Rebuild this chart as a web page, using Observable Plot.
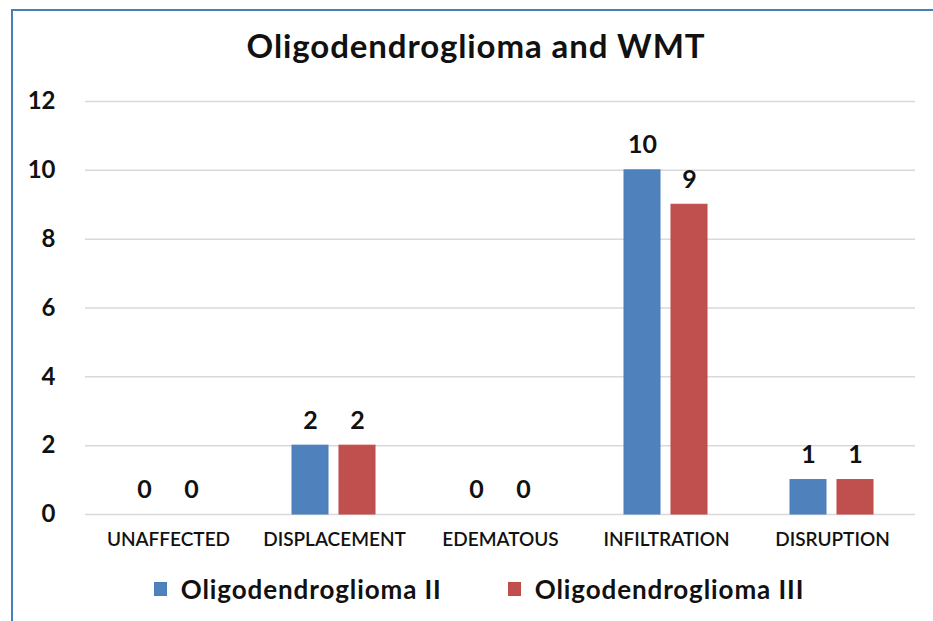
<!DOCTYPE html>
<html>
<head>
<meta charset="utf-8">
<script src="https://cdn.jsdelivr.net/npm/d3@7"></script>
<script src="https://cdn.jsdelivr.net/npm/@observablehq/plot@0.6"></script>
<style>
  html, body { margin: 0; padding: 0; background: #fff; width: 933px; height: 621px; overflow: hidden; font-family: Lato, "Open Sans", sans-serif; }
  #frame { position: absolute; left: 11px; top: 9px; width: 1000px; height: 1000px; border-left: 2px solid #4a7ebb; border-top: 2px solid #4a7ebb; }
  #title { position: absolute; left: 0; top: 25px; width: 952px; text-align: center; font-size: 33px; letter-spacing: 0.9px; font-weight: 700; color: #111; line-height: 40px; }
  #chart { position: absolute; left: 0; top: 80px; }
  #legend { position: absolute; left: 0; top: 571px; width: 958px; display: flex; justify-content: center; align-items: center; gap: 66px; font-size: 26px; letter-spacing: 0.9px; font-weight: 700; color: #111; line-height: 36px; }
  .item { display: flex; align-items: center; gap: 14px; }
  .sw { width: 13px; height: 14px; box-sizing: border-box; }
</style>
</head>
<body>
<div id="frame"></div>
<div id="title">Oligodendroglioma and WMT</div>
<div id="chart"></div>
<div id="legend"></div>
<script>
const categories = ["UNAFFECTED", "DISPLACEMENT", "EDEMATOUS", "INFILTRATION", "DISRUPTION"];
const series = ["Oligodendroglioma II", "Oligodendroglioma III"];
const grade2Values = [0, 2, 0, 10, 1];
const grade3Values = [0, 2, 0, 9, 1];
const yTicks = [0, 2, 4, 6, 8, 10, 12];
const colors = ["#4f81bd", "#c0504d"];
const strokes = ["#4a7ebb", "#be4b48"];

const data = [];
categories.forEach((c, i) => {
  data.push({cat: c, series: series[0], value: grade2Values[i]});
  data.push({cat: c, series: series[1], value: grade3Values[i]});
});

const chart = Plot.plot({
  width: 933,
  height: 480,
  marginTop: 21,
  marginBottom: 46,
  marginLeft: 84,
  marginRight: 18,
  style: {fontFamily: "Lato, 'Open Sans', sans-serif", color: "#111", background: "transparent"},
  fx: {domain: categories, padding: 0, label: null},
  x: {domain: series, paddingInner: 0.23, paddingOuter: 0.846, axis: null},
  y: {domain: [0, 12], ticks: yTicks, label: null},
  color: {domain: series, range: colors},
  marks: [
    Plot.gridY(yTicks, {stroke: "#d9d9d9", strokeOpacity: 1, strokeWidth: 1.5}),
    Plot.barY(data, {fx: "cat", x: "series", y: "value", fill: "series", stroke: d => strokes[series.indexOf(d.series)], strokeWidth: 1}),
    Plot.text(data, {fx: "cat", x: "series", y: "value", text: d => String(d.value), dy: -25, fontSize: 25, fontWeight: "bold", fill: "#111"}),
    Plot.axisY(yTicks, {tickSize: 0, tickPadding: 30, fontSize: 24, fontWeight: "bold", label: null}),
    Plot.axisFx({anchor: "bottom", tickSize: 0, tickPadding: 18, fontSize: 19, fontWeight: 600, label: null})
  ]
});
document.getElementById("chart").appendChild(chart);

const legend = document.getElementById("legend");
series.forEach((s, i) => {
  const item = document.createElement("div");
  item.className = "item";
  const sw = document.createElement("div");
  sw.className = "sw";
  sw.style.background = colors[i];
  sw.style.border = "1px solid " + strokes[i];
  const t = document.createElement("span");
  t.textContent = s;
  item.appendChild(sw);
  item.appendChild(t);
  legend.appendChild(item);
});
</script>
</body>
</html>
